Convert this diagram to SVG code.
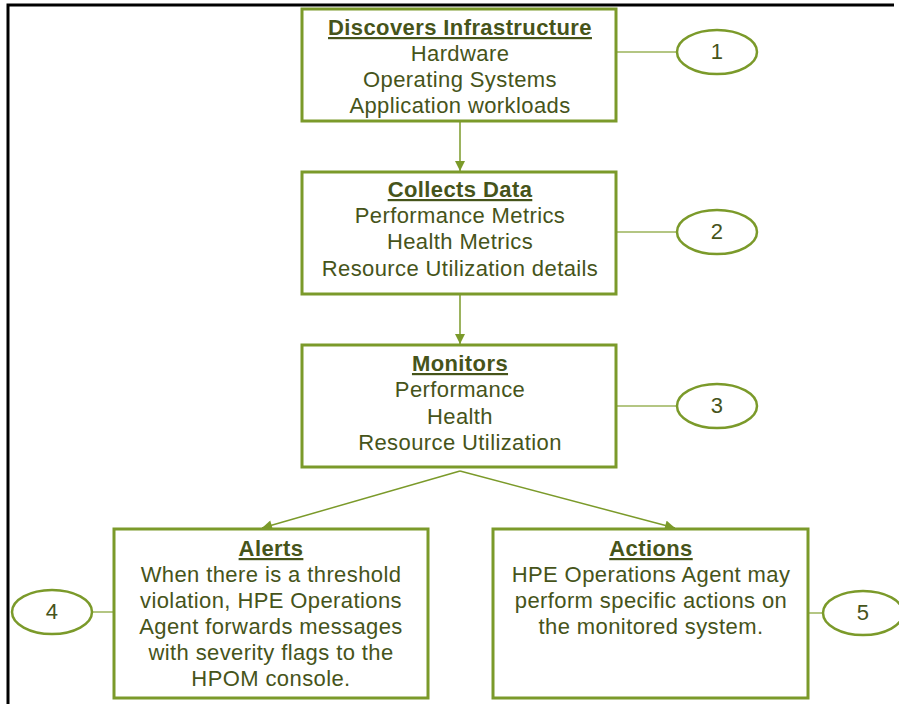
<svg xmlns="http://www.w3.org/2000/svg" width="899" height="704" viewBox="0 0 899 704">
<defs>
<style>
.box{fill:#fff;stroke:#7b9a2a;stroke-width:3}
.ell{fill:#fff;stroke:#7b9a2a;stroke-width:2.5}
.lnk{stroke:#9bb35a;stroke-width:1.5;fill:none}
.arr{stroke:#7b9a2a;stroke-width:1.5;fill:none}
text{font-family:"Liberation Sans",Arial,sans-serif;font-size:22px;letter-spacing:0.4px;fill:#46541a;text-anchor:middle}
.t{font-weight:bold;text-decoration:underline}
</style>
<marker id="ah2" viewBox="0 0 10 10" refX="10" refY="5" markerWidth="12" markerHeight="10" markerUnits="userSpaceOnUse" orient="auto">
<path d="M0,0 L10,5 L0,10 Z" fill="#7b9a2a"/>
</marker>
</defs>
<rect width="899" height="704" fill="#fff"/>
<path d="M8,704 V5 H894" stroke="#000" stroke-width="3" fill="none"/>
<g id="connectors">
<line class="arr" x1="460" y1="122" x2="460" y2="171" marker-end="url(#ah2)"/>
<line class="arr" x1="460" y1="295" x2="460" y2="344" marker-end="url(#ah2)"/>
<line class="arr" x1="460" y1="471" x2="262" y2="528" marker-end="url(#ah2)"/>
<line class="arr" x1="460" y1="471" x2="675" y2="528" marker-end="url(#ah2)"/>
<line class="lnk" x1="616" y1="52" x2="677" y2="52"/>
<line class="lnk" x1="616" y1="232" x2="677" y2="232"/>
<line class="lnk" x1="616" y1="406" x2="677" y2="406"/>
<line class="lnk" x1="92" y1="612" x2="114" y2="612"/>
<line class="lnk" x1="808" y1="613" x2="823" y2="613"/>
</g>
<g id="n1">
<rect class="box" x="302" y="9" width="314" height="112"/>
<text class="t" x="460" y="35">Discovers Infrastructure</text>
<text x="460" y="61">Hardware</text>
<text x="460" y="87">Operating Systems</text>
<text x="460" y="113">Application workloads</text>
</g>
<g id="n2">
<rect class="box" x="302" y="172" width="314" height="122"/>
<text class="t" x="460" y="197">Collects Data</text>
<text x="460" y="223">Performance Metrics</text>
<text x="460" y="249">Health Metrics</text>
<text x="460" y="276">Resource Utilization details</text>
</g>
<g id="n3">
<rect class="box" x="302" y="345" width="314" height="122"/>
<text class="t" x="460" y="371">Monitors</text>
<text x="460" y="397">Performance</text>
<text x="460" y="424">Health</text>
<text x="460" y="450">Resource Utilization</text>
</g>
<g id="n4">
<rect class="box" x="114" y="529" width="314" height="169"/>
<text class="t" x="271" y="556">Alerts</text>
<text x="271" y="582">When there is a threshold</text>
<text x="271" y="608">violation, HPE Operations</text>
<text x="271" y="634">Agent forwards messages</text>
<text x="271" y="660">with severity flags to the</text>
<text x="271" y="686">HPOM console.</text>
</g>
<g id="n5">
<rect class="box" x="493" y="529" width="315" height="169"/>
<text class="t" x="651" y="556">Actions</text>
<text x="651" y="582">HPE Operations Agent may</text>
<text x="651" y="608">perform specific actions on</text>
<text x="651" y="634">the monitored system.</text>
</g>
<g id="c1"><ellipse class="ell" cx="717" cy="52" rx="40" ry="22"/><text x="717" y="59">1</text></g>
<g id="c2"><ellipse class="ell" cx="717" cy="232" rx="40" ry="22"/><text x="717" y="239">2</text></g>
<g id="c3"><ellipse class="ell" cx="717" cy="406" rx="40" ry="22"/><text x="717" y="413">3</text></g>
<g id="c4"><ellipse class="ell" cx="52" cy="612" rx="40" ry="22"/><text x="52" y="619">4</text></g>
<g id="c5"><ellipse class="ell" cx="863" cy="613" rx="40" ry="22"/><text x="863" y="620">5</text></g>
</svg>
